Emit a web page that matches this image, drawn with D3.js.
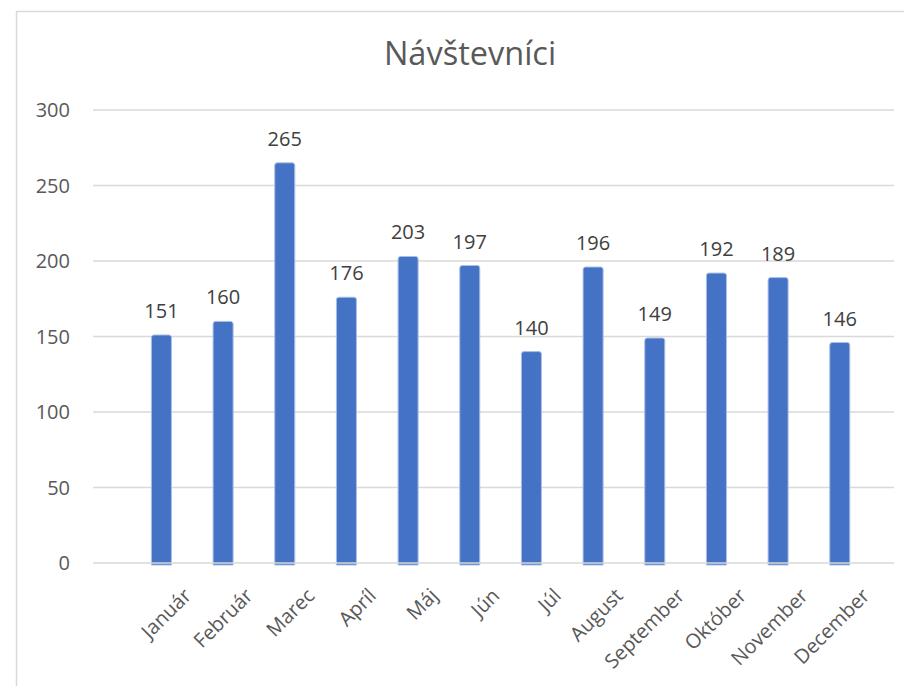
<!DOCTYPE html>
<html><head><meta charset="utf-8">
<script src="https://cdn.jsdelivr.net/npm/d3@7"></script>
<style>body{margin:0;background:#fff}svg{display:block}</style>
</head><body>
<script>
const title = "Návštevníci";
const months = ["Január","Február","Marec","Apríl","Máj","Jún","Júl","August","September","Október","November","December"];
const visitors = [151,160,265,176,203,197,140,196,149,192,189,146];
const yTicks = [0,50,100,150,200,250,300];

const W = 904, H = 686;
const svg = d3.select("body").append("svg").attr("width", W).attr("height", H);
const font = "'Open Sans', sans-serif";

// chart frame
svg.append("rect").attr("x",16.5).attr("y",11.5).attr("width",W).attr("height",H)
  .attr("fill","#fff").attr("stroke","#d9d9d9").attr("stroke-width",1.5);

const x = d3.scaleBand().domain(months).range([130.6, 870.6]).paddingInner(0.675).paddingOuter(0.3375);
const y = d3.scaleLinear().domain([0,300]).range([563,110]);

// gridlines
svg.append("g").selectAll("line").data(yTicks.filter(d=>d>0)).join("line")
  .attr("x1",93).attr("x2",894).attr("y1",d=>y(d)).attr("y2",d=>y(d))
  .attr("stroke","#d9d9d9").attr("stroke-width",1.5);

// y tick labels
svg.append("g").selectAll("text").data(yTicks).join("text")
  .attr("x",70).attr("y",d=>y(d)).attr("dy","0.36em").attr("text-anchor","end")
  .attr("font-family",font).attr("font-size",20).attr("fill","#595959").text(d=>d);

// bars
const bw = 20;
svg.append("g").selectAll("path").data(months).join("path")
  .attr("d",(m,i)=>{
    const cx = x(m)+x.bandwidth()/2, x0 = cx-bw/2, x1 = cx+bw/2, top = y(visitors[i]), bot = y(0)+2, r=2.5;
    return `M${x0},${bot}V${top+r}Q${x0},${top} ${x0+r},${top}H${x1-r}Q${x1},${top} ${x1},${top+r}V${bot}Z`;
  })
  .attr("fill","#4472c4").attr("stroke","#a9bde6").attr("stroke-width",1);

// zero line
svg.append("line").attr("x1",93).attr("x2",894).attr("y1",y(0)).attr("y2",y(0))
  .attr("stroke","#d9d9d9").attr("stroke-width",1.5);

// data labels
svg.append("g").selectAll("text").data(months).join("text")
  .attr("x",m=>x(m)+x.bandwidth()/2).attr("y",(m,i)=>y(visitors[i])-17)
  .attr("text-anchor","middle").attr("font-family",font).attr("font-size",20)
  .attr("fill","#404040").text((m,i)=>visitors[i]);

// x labels
svg.append("g").selectAll("text").data(months).join("text")
  .attr("transform",m=>`translate(${x(m)+x.bandwidth()/2+31},597) rotate(-45)`)
  .attr("text-anchor","end").attr("font-family",font).attr("font-size",20)
  .attr("fill","#595959").text(m=>m);

// title
svg.append("text").attr("x",470).attr("y",65).attr("text-anchor","middle")
  .attr("font-family",font).attr("font-size",32.5).attr("fill","#595959").text(title);
</script>
</body></html>
